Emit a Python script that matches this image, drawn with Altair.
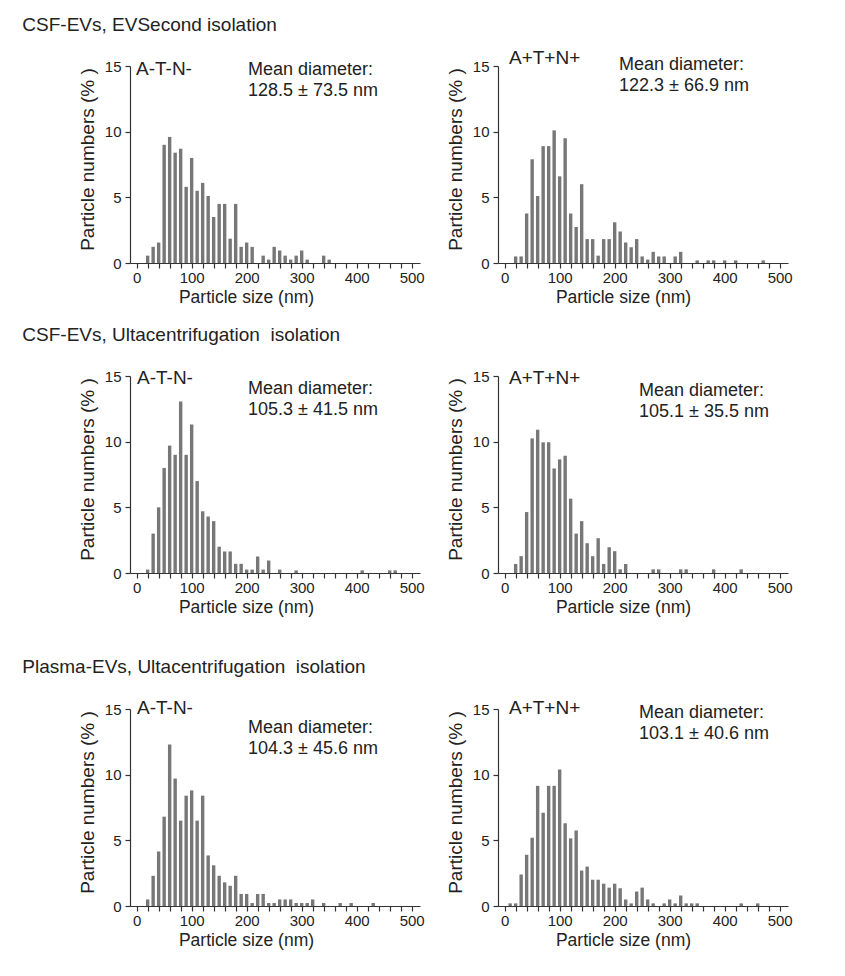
import altair as alt
import pandas as pd

# bin centres (nm)
bins_nm = list(range(10, 490, 10))  # 10 .. 480

csf_evsecond_neg = [0, 0.56, 1.23, 1.56, 9.0, 9.6, 8.4, 8.7, 5.8, 8.0,
                    5.5, 6.1, 5.1, 3.5, 4.5, 4.5, 1.85, 4.5, 1.23, 1.56,
                    1.23, 0, 0.56, 0.26, 1.23, 0.95, 0.56, 0.26, 0.56, 0.95,
                    0.26, 0, 0, 0.56, 0.26, 0, 0, 0, 0, 0,
                    0, 0, 0, 0, 0, 0, 0, 0]
csf_evsecond_pos = [0, 0.5, 0.5, 3.77, 7.9, 5.1, 8.9, 8.9, 10.1, 6.6,
                    9.5, 3.77, 2.74, 6.0, 1.82, 1.82, 0.56, 1.82, 1.82, 3.1,
                    2.4, 1.56, 1.2, 1.82, 0.5, 0.26, 0.85, 0.5, 0.5, 0,
                    0.5, 0.85, 0, 0, 0.2, 0, 0.2, 0.2, 0, 0.2,
                    0, 0.2, 0, 0, 0, 0, 0.2, 0]
csf_uc_neg = [0, 0.26, 3.0, 5.0, 8.0, 9.7, 9.0, 13.05, 9.0, 11.3,
              7.0, 4.7, 4.3, 3.95, 2.0, 1.64, 1.64, 0.7, 0.7, 0.26,
              0.26, 1.26, 0.26, 0.95, 0, 0.26, 0, 0, 0.2, 0,
              0, 0, 0, 0, 0, 0, 0, 0, 0, 0,
              0.2, 0, 0, 0, 0, 0.2, 0.2, 0]
csf_uc_pos = [0, 0.69, 1.28, 4.64, 10.25, 10.9, 9.95, 9.95, 7.96, 8.65,
              8.93, 5.66, 3.0, 3.95, 2.27, 1.28, 2.65, 0.69, 1.96, 1.66,
              0.28, 0.69, 0, 0, 0, 0, 0.28, 0.28, 0, 0,
              0, 0.28, 0.28, 0, 0, 0, 0, 0.28, 0, 0,
              0, 0, 0.28, 0, 0, 0, 0, 0]
plasma_uc_neg = [0, 0.5, 2.3, 4.15, 6.8, 12.3, 9.7, 6.5, 8.4, 8.8,
                 6.5, 8.4, 3.85, 3.1, 2.3, 1.8, 1.54, 2.3, 0.92, 0.92,
                 0.23, 0.92, 0.92, 0.23, 0.23, 0.5, 0.5, 0.5, 0.23, 0.23,
                 0.23, 0.5, 0, 0.23, 0, 0, 0.23, 0, 0.23, 0,
                 0, 0, 0.23, 0, 0, 0, 0, 0]
plasma_uc_pos = [0.2, 0.2, 2.4, 3.9, 5.2, 9.15, 7.1, 9.15, 9.15, 10.4,
                 6.3, 5.15, 5.75, 2.7, 3.0, 2.0, 2.0, 1.7, 1.4, 1.7,
                 1.35, 0.5, 0.2, 1.1, 1.4, 0.5, 0.2, 0, 0.2, 0.5,
                 0.2, 0.8, 0.2, 0.2, 0.2, 0, 0, 0, 0, 0,
                 0, 0, 0.2, 0, 0, 0.2, 0, 0]

section_titles = ["CSF-EVs, EVSecond isolation",
                  "CSF-EVs, Ultacentrifugation\u00a0 isolation",
                  "Plasma-EVs, Ultacentrifugation\u00a0 isolation"]
group_labels = ["A-T-N-", "A+T+N+"]
mean_texts = ["Mean diameter:\n128.5 ± 73.5 nm", "Mean diameter:\n122.3 ± 66.9 nm",
              "Mean diameter:\n105.3 ± 41.5 nm", "Mean diameter:\n105.1 ± 35.5 nm",
              "Mean diameter:\n104.3 ± 45.6 nm", "Mean diameter:\n103.1 ± 40.6 nm"]
series = [csf_evsecond_neg, csf_evsecond_pos, csf_uc_neg, csf_uc_pos,
          plasma_uc_neg, plasma_uc_pos]

# annotation placement (px from plot top-left): label x, label y, mean x, mean y
ann_pos = [(6, 9, 118, 9), (11, -2, 121, 4),
           (7, 8, 118, 18), (11, 8, 141, 20),
           (7, 5, 118, 24), (11, 5, 141, 9)]
# x-axis title centre (px from plot left)
xtitle_x = [116, 125, 116, 125, 116, 125]
row_title_offset = [14, 24, 22]

TXT = "#222222"
AX = "#333333"
BAR = "#777777"


def panel(vals, group, mean, pos, tx):
    df = pd.DataFrame({"size": bins_nm, "pct": vals})
    bars = alt.Chart(df).transform_filter("datum.pct > 0").mark_bar(
        size=3.4, color=BAR
    ).encode(
        x=alt.X("size:Q",
                scale=alt.Scale(domain=[-3, 506], nice=False, zero=False),
                axis=alt.Axis(values=list(range(0, 501, 20)),
                              labelExpr="datum.value % 100 == 0 ? datum.label : ''",
                              labelOverlap=False, labelFlush=False,
                              tickSize=5, labelPadding=2, titlePadding=3,
                              labelFontSize=15, titleFontSize=17.5,
                              titleX=tx, titleAlign="center"),
                title="Particle size (nm)"),
        y=alt.Y("pct:Q",
                scale=alt.Scale(domain=[0, 15], nice=False),
                axis=alt.Axis(values=[0, 5, 10, 15], tickSize=5,
                              labelPadding=4, titlePadding=7,
                              labelFontSize=15, titleFontSize=19,
                              titleY=93),
                title="Particle numbers (% )"),
    )
    lab = alt.Chart(pd.DataFrame({"t": [group]})).mark_text(
        align="left", baseline="alphabetic", fontSize=19, color=TXT
    ).encode(x=alt.value(pos[0]), y=alt.value(pos[1]), text="t:N")
    mtxt = alt.Chart(pd.DataFrame({"t": [mean]})).mark_text(
        align="left", baseline="alphabetic", fontSize=18, color=TXT,
        lineBreak="\n", lineHeight=21
    ).encode(x=alt.value(pos[2]), y=alt.value(pos[3]), text="t:N")
    return alt.layer(bars, lab, mtxt).properties(width=290, height=197)


rows = []
for r in range(3):
    left = panel(series[2 * r], group_labels[0], mean_texts[2 * r],
                 ann_pos[2 * r], xtitle_x[2 * r])
    right = panel(series[2 * r + 1], group_labels[1], mean_texts[2 * r + 1],
                  ann_pos[2 * r + 1], xtitle_x[2 * r + 1])
    rows.append(alt.hconcat(left, right, spacing=21,
                            title=alt.TitleParams(section_titles[r], anchor="start",
                                                  fontSize=19, fontWeight="normal",
                                                  color=TXT, dx=-56,
                                                  offset=row_title_offset[r])))

chart = alt.vconcat(alt.vconcat(rows[0], rows[1], spacing=20), rows[2], spacing=42).configure(
    font="Liberation Sans",
    padding={"left": 14, "top": 8, "right": 5, "bottom": 5},
).configure_view(stroke=None).configure_axis(
    grid=False, domainColor=AX, tickColor=AX, labelColor=TXT, titleColor=TXT,
    domainWidth=1.2, tickWidth=1.2, titleFontWeight="normal",
    labelFont="Liberation Sans", titleFont="Liberation Sans",
)

chart.save("out.html", embed_options={"renderer": "svg", "actions": False})
